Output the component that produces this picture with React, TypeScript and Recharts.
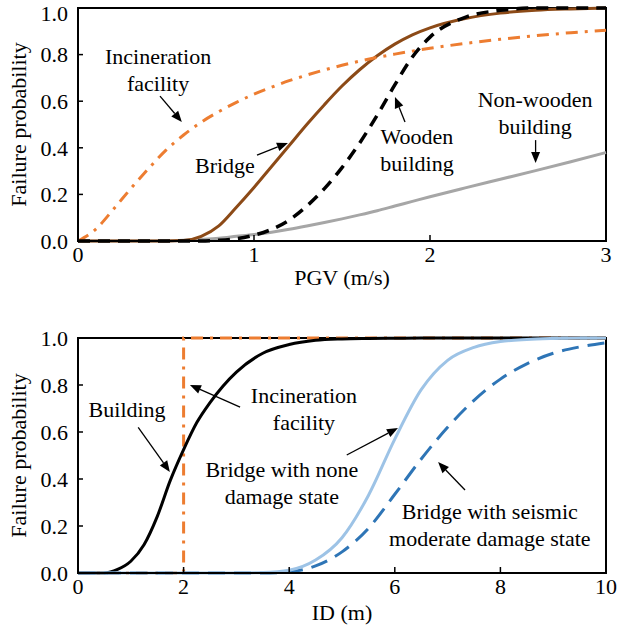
import {
  LineChart, Line, XAxis, YAxis, ReferenceArea, ReferenceLine, ReferenceDot, Label,
} from 'recharts'

// PGV fragility curves (upper panel)
const pgv = [0, 0.1, 0.2, 0.3, 0.4, 0.5, 0.6, 0.7, 0.8, 0.9, 1.0, 1.1, 1.2, 1.3, 1.4, 1.5, 1.6, 1.7, 1.8, 1.9, 2.0, 2.2, 2.4, 2.6, 2.8, 3.0]
const incinerationPgv = [0, 0.05, 0.135, 0.225, 0.31, 0.39, 0.455, 0.51, 0.555, 0.595, 0.63, 0.66, 0.688, 0.712, 0.734, 0.754, 0.772, 0.788, 0.802, 0.815, 0.827, 0.848, 0.866, 0.881, 0.894, 0.905]
const bridgePgv = [0, 0, 0, 0, 0, 0, 0.002, 0.02, 0.065, 0.145, 0.23, 0.32, 0.41, 0.5, 0.585, 0.665, 0.735, 0.795, 0.845, 0.885, 0.915, 0.955, 0.978, 0.99, 0.996, 1.0]
const woodenPgv = [0, 0, 0, 0, 0, 0, 0, 0, 0.003, 0.01, 0.025, 0.05, 0.09, 0.15, 0.225, 0.315, 0.42, 0.54, 0.67, 0.79, 0.875, 0.96, 0.99, 1.0, 1.0, 1.0]
const nonWoodenPgv = [0, 0, 0, 0, 0, 0, 0.003, 0.007, 0.012, 0.02, 0.028, 0.038, 0.05, 0.064, 0.079, 0.095, 0.112, 0.13, 0.15, 0.17, 0.19, 0.228, 0.265, 0.302, 0.34, 0.38]
const pgvTicks = [0, 1, 2, 3]

// Inundation depth fragility curves (lower panel)
const depth = [0, 0.5, 0.75, 1, 1.25, 1.5, 1.75, 2, 2.25, 2.5, 3, 3.5, 4, 4.5, 5, 5.5, 6, 6.5, 7, 7.5, 8, 8.5, 9, 9.5, 10]
const buildingId = [0, 0, 0.015, 0.05, 0.12, 0.24, 0.395, 0.525, 0.64, 0.725, 0.855, 0.935, 0.972, 0.99, 0.996, 0.998, 0.999, 1, 1, 1, 1, 1, 1, 1, 1]
const bridgeNoneId = [0, 0, 0, 0, 0, 0, 0, 0, 0, 0, 0, 0.002, 0.012, 0.055, 0.15, 0.33, 0.57, 0.78, 0.905, 0.96, 0.985, 0.994, 0.998, 1, 1]
const bridgeModerateId = [0, 0, 0, 0, 0, 0, 0, 0, 0, 0, 0, 0, 0.005, 0.03, 0.09, 0.19, 0.335, 0.485, 0.62, 0.735, 0.825, 0.89, 0.935, 0.962, 0.98]
const incinerationDepth = [0, 2, 2, 10]
const incinerationId = [0, 0, 1, 1]
const idTicks = [0, 2, 4, 6, 8, 10]

const probTicks = [0, 0.2, 0.4, 0.6, 0.8, 1.0]

const pgvData = pgv.map((x, i) => ({
  x,
  incineration: incinerationPgv[i],
  bridge: bridgePgv[i],
  wooden: woodenPgv[i],
  nonWooden: nonWoodenPgv[i],
}))
const idData = depth.map((x, i) => ({
  x,
  building: buildingId[i],
  bridgeNone: bridgeNoneId[i],
  bridgeModerate: bridgeModerateId[i],
}))
const incinerationIdData = incinerationDepth.map((x, i) => ({ x, incineration: incinerationId[i] }))

const FONT = 'Liberation Serif, DejaVu Serif, serif'
const tickStyle = { fill: '#000', fontSize: 22, fontFamily: FONT, style: { fontFamily: FONT } }

function Arrow(props: any) {
  const { x1, y1, x2, y2 } = props
  const dx = x2 - x1
  const dy = y2 - y1
  const len = Math.sqrt(dx * dx + dy * dy) || 1
  const ux = dx / len
  const uy = dy / len
  const head = 11
  const half = 4.5
  const bx = x2 - ux * head
  const by = y2 - uy * head
  return (
    <g>
      <line x1={x1} y1={y1} x2={bx} y2={by} stroke="#000" strokeWidth={1.3} />
      <polygon
        points={`${x2},${y2} ${bx - uy * half},${by + ux * half} ${bx + uy * half},${by - ux * half}`}
        fill="#000"
      />
    </g>
  )
}

function noteShape(lines: string[]) {
  return (p: any) => (
    <text style={{ fontFamily: FONT }} fontSize={22} fill="#000" textAnchor="middle">
      {lines.map((l, i) => (
        <tspan key={i} x={p.cx} y={p.cy + (i - (lines.length - 1) / 2) * 27} dominantBaseline="central">
          {l}
        </tspan>
      ))}
    </text>
  )
}

function yTitle(p: any) {
  const vb = p.viewBox || {}
  const cx = 18
  const cy = vb.y + vb.height / 2
  return (
    <text x={cx} y={cy} transform={`rotate(-90, ${cx}, ${cy})`} textAnchor="middle"
      dominantBaseline="central" style={{ fontFamily: FONT }} fontSize={22} fill="#000">
      Failure probability
    </text>
  )
}

function xTitle(text: string, drop: number) {
  return (p: any) => {
    const vb = p.viewBox || {}
    return (
      <text x={vb.x + vb.width / 2} y={vb.y + drop} textAnchor="middle" style={{ fontFamily: FONT }} fontSize={22} fill="#000">
        {text}
      </text>
    )
  }
}

const seg = (a: number, b: number, c: number, d: number) => [{ x: a, y: b }, { x: c, y: d }]

export default function App() {
  return (
    <div style={{ position: 'fixed', top: 0, left: 0, width: 618, height: 627, overflow: 'hidden', background: '#fff', fontFamily: FONT }}>
      <LineChart width={618} height={300} data={pgvData} margin={{ top: 8, right: 12, bottom: 0, left: 0 }}>
        <ReferenceArea x1={0} x2={3} y1={0} y2={1} fill="none" stroke="#000" strokeWidth={2} />
        <XAxis
          dataKey="x" type="number" domain={[0, 3]} ticks={pgvTicks} height={59}
          tick={tickStyle} tickSize={-6} tickMargin={11}
          axisLine={{ stroke: '#000', strokeWidth: 2 }} tickLine={{ stroke: '#000', strokeWidth: 1.5 }}
        >
          <Label content={xTitle('PGV (m/s)', 44)} />
        </XAxis>
        <YAxis
          type="number" domain={[0, 1]} ticks={probTicks} width={78}
          tickFormatter={(v: number) => v.toFixed(1)} tick={tickStyle} tickSize={-5} tickMargin={15}
          axisLine={{ stroke: '#000', strokeWidth: 2 }} tickLine={{ stroke: '#000', strokeWidth: 1.5 }}
        >
          <Label content={yTitle} />
        </YAxis>
        <Line type="monotone" dataKey="nonWooden" stroke="#A6A6A6" strokeWidth={3} dot={false} isAnimationActive={false} />
        <Line type="monotone" dataKey="bridge" stroke="#8C4A17" strokeWidth={3} dot={false} isAnimationActive={false} />
        <Line type="monotone" dataKey="incineration" stroke="#ED7D31" strokeWidth={3} strokeDasharray="12 7 3 7" dot={false} isAnimationActive={false} />
        <Line type="monotone" dataKey="wooden" stroke="#000" strokeWidth={3.5} strokeDasharray="12 8" dot={false} isAnimationActive={false} />

        <ReferenceLine segment={seg(0.466, 0.622, 0.59, 0.511)} shape={Arrow} />
        <ReferenceLine segment={seg(1.017, 0.369, 1.193, 0.421)} shape={Arrow} />
        <ReferenceLine segment={seg(1.858, 0.511, 1.801, 0.618)} shape={Arrow} />
        <ReferenceLine segment={seg(2.6, 0.433, 2.6, 0.335)} shape={Arrow} />

        <ReferenceDot x={0.455} y={0.734} r={0} shape={noteShape(['Incineration', 'facility'])} />
        <ReferenceDot x={0.835} y={0.326} r={0} shape={noteShape(['Bridge'])} />
        <ReferenceDot x={1.926} y={0.39} r={0} shape={noteShape(['Wooden', 'building'])} />
        <ReferenceDot x={2.597} y={0.549} r={0} shape={noteShape(['Non-wooden', 'building'])} />
      </LineChart>

      <LineChart width={618} height={327} data={idData} margin={{ top: 38, right: 12, bottom: 0, left: 0 }}>
        <ReferenceArea x1={0} x2={10} y1={0} y2={1} fill="none" stroke="#000" strokeWidth={2} />
        <XAxis
          dataKey="x" type="number" domain={[0, 10]} ticks={idTicks} height={54}
          tick={tickStyle} tickSize={-6} tickMargin={11}
          axisLine={{ stroke: '#000', strokeWidth: 2 }} tickLine={{ stroke: '#000', strokeWidth: 1.5 }}
        >
          <Label content={xTitle('ID (m)', 47)} />
        </XAxis>
        <YAxis
          type="number" domain={[0, 1]} ticks={probTicks} width={78}
          tickFormatter={(v: number) => v.toFixed(1)} tick={tickStyle} tickSize={-5} tickMargin={15}
          axisLine={{ stroke: '#000', strokeWidth: 2 }} tickLine={{ stroke: '#000', strokeWidth: 1.5 }}
        >
          <Label content={yTitle} />
        </YAxis>
        <Line data={incinerationIdData} type="linear" dataKey="incineration" stroke="#ED7D31" strokeWidth={3} strokeDasharray="12 7 3 7" dot={false} isAnimationActive={false} />
        <Line type="monotone" dataKey="building" stroke="#000" strokeWidth={3} dot={false} isAnimationActive={false} />
        <Line type="monotone" dataKey="bridgeModerate" stroke="#2E75B6" strokeWidth={3} strokeDasharray="17 9" dot={false} isAnimationActive={false} />
        <Line type="monotone" dataKey="bridgeNone" stroke="#9DC3E6" strokeWidth={3} dot={false} isAnimationActive={false} />

        <ReferenceLine segment={seg(1.14, 0.62, 1.74, 0.43)} shape={Arrow} />
        <ReferenceLine segment={seg(3.07, 0.706, 2.12, 0.8)} shape={Arrow} />
        <ReferenceLine segment={seg(5.09, 0.502, 6.06, 0.617)} shape={Arrow} />
        <ReferenceLine segment={seg(7.33, 0.353, 6.82, 0.472)} shape={Arrow} />

        <ReferenceDot x={0.93} y={0.694} r={0} shape={noteShape(['Building'])} />
        <ReferenceDot x={4.28} y={0.698} r={0} shape={noteShape(['Incineration', 'facility'])} />
        <ReferenceDot x={3.86} y={0.383} r={0} shape={noteShape(['Bridge with none', 'damage state'])} />
        <ReferenceDot x={7.8} y={0.204} r={0} shape={noteShape(['Bridge with seismic', 'moderate damage state'])} />
      </LineChart>
    </div>
  )
}
